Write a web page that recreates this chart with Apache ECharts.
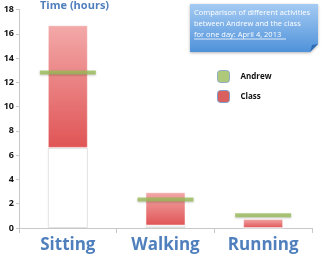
<!DOCTYPE html>
<html><head><meta charset="utf-8">
<script src="https://cdn.jsdelivr.net/npm/echarts@6/dist/echarts.min.js"></script>
<style>html,body{margin:0;padding:0;background:#fff}#c{width:336px;height:260px}</style>
</head><body><div id="c"></div>
<script>
const categories = ['Sitting', 'Walking', 'Running'];
const classMin = [6.6, 0.2, 0];
const classMax = [16.7, 2.95, 0.75];
const andrew = [12.8, 2.35, 1.05];
const yTicks = [0, 2, 4, 6, 8, 10, 12, 14, 16, 18];

const chart = echarts.init(document.getElementById('c'), null, {renderer: 'canvas'});
const redGrad = new echarts.graphic.LinearGradient(0, 0, 0, 1, [
  {offset: 0, color: '#f3a9a9'}, {offset: 1, color: '#e05455'}]);
const boxGrad = new echarts.graphic.LinearGradient(0, 0, 0, 1, [
  {offset: 0, color: '#a5cbf3'}, {offset: 1, color: '#4f92da'}]);

chart.setOption({
  animation: false,
  grid: {left: 19, right: 24, top: 9.5, bottom: 32},
  xAxis: {
    type: 'category', data: categories,
    axisLine: {lineStyle: {color: '#c8c8c8'}},
    axisTick: {show: true, length: 5, lineStyle: {color: '#c8c8c8'}},
    axisLabel: {color: '#4f7fbd', fontSize: 17, fontWeight: 'bold', fontFamily: 'Open Sans', margin: 9}
  },
  yAxis: {
    type: 'value', min: 0, max: yTicks[yTicks.length - 1], interval: 2,
    splitLine: {show: false},
    axisLine: {show: true, lineStyle: {color: '#c8c8c8'}},
    axisTick: {show: true, length: 3, lineStyle: {color: '#c8c8c8'}},
    axisLabel: {color: '#111', fontSize: 9, fontWeight: 'bold', fontFamily: 'Open Sans', margin: 5}
  },
  legend: {
    orient: 'vertical', left: 212, top: 65, itemGap: 7,
    itemWidth: 12, itemHeight: 12, icon: 'roundRect',
    textStyle: {fontSize: 8, fontWeight: 'bold', color: '#111', fontFamily: 'Open Sans', padding: [0, 0, 0, 6]},
    data: [
      {name: 'Andrew', itemStyle: {color: '#9bbb59', borderColor: '#7f9fc8', borderWidth: 1}},
      {name: 'Class', itemStyle: {color: '#d9605e', borderColor: '#7f9fc8', borderWidth: 1}}
    ]
  },
  series: [
    {name: 'base', type: 'bar', stack: 's', barWidth: '41%', data: classMin,
     itemStyle: {color: 'rgba(255,255,255,0)', borderColor: '#e2e2e2', borderWidth: 1}},
    {name: 'Class', type: 'bar', stack: 's', barWidth: '41%',
     data: classMax.map((v, i) => +(v - classMin[i]).toFixed(3)),
     itemStyle: {color: redGrad, borderColor: 'rgba(255,255,255,0.5)', borderWidth: 1}},
    {name: 'Andrew', type: 'scatter', data: andrew, symbol: 'rect', symbolSize: [56, 4], z: 5,
     itemStyle: {color: '#9bbb59', shadowColor: 'rgba(0,0,0,0.25)', shadowBlur: 2, shadowOffsetY: 1}}
  ],
  graphic: [
    {type: 'text', left: 40, top: 0, style: {text: 'Time (hours)', fill: '#4f7fbd', font: 'bold 11px "Open Sans"'}},
    {type: 'polygon', shape: {points: [[190, 4], [318, 4], [318, 44], [310, 52], [190, 52]]},
     style: {fill: boxGrad, shadowColor: 'rgba(0,0,0,0.3)', shadowBlur: 3, shadowOffsetY: 1}},
    {type: 'polygon', shape: {points: [[318, 44], [310, 52], [312, 45]]}, style: {fill: '#2f6cb3'}},
    {type: 'text', left: 194, top: 7, style: {
      text: 'Comparison of different activities\nbetween Andrew and the class\nfor one day: April 4, 2013',
      fill: '#fff', font: '7.5px "Open Sans"', lineHeight: 11}},
    {type: 'line', shape: {x1: 194, y1: 39, x2: 286, y2: 39}, style: {stroke: '#fff', lineWidth: 0.8}}
  ]
});
</script></body></html>
